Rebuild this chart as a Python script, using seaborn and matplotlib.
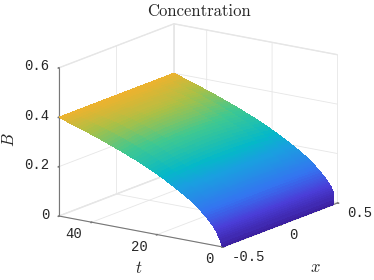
import numpy as np
import matplotlib
matplotlib.use('Agg')
import matplotlib.pyplot as plt
from matplotlib.colors import LinearSegmentedColormap
from mpl_toolkits.mplot3d import proj3d
import seaborn as sns

# values
t_values = [0, 0.25, 0.5, 0.75, 1, 1.25, 1.5, 1.75, 2, 2.25, 2.5, 2.75, 3, 3.25, 3.5, 3.75, 4,
            4.5, 5, 5.5, 6, 6.5, 7, 7.5, 8, 8.5, 9, 9.5, 10, 10.5, 11, 11.5, 12, 12.5, 13, 13.5,
            14, 14.5, 15, 15.5, 16, 17, 18, 19,
            20, 21, 22, 23, 24, 25, 26, 27, 28, 29, 30, 31, 32, 33, 34, 35, 36, 37, 38, 39,
            40, 41, 42, 43, 44, 45, 46, 47, 48, 49, 50]
b_edge = [0, 0.009, 0.018, 0.026, 0.033, 0.040, 0.047, 0.054, 0.060, 0.065, 0.070, 0.075, 0.079,
          0.083, 0.087, 0.091, 0.095, 0.102, 0.109, 0.116, 0.122, 0.128, 0.134, 0.140, 0.145,
          0.151, 0.156, 0.161, 0.166, 0.171, 0.175, 0.180, 0.184, 0.188, 0.192, 0.196,
          0.200, 0.204, 0.208, 0.212, 0.216, 0.223, 0.231, 0.238, 0.245, 0.252,
          0.258, 0.265, 0.271, 0.277, 0.283, 0.289, 0.294, 0.300, 0.305, 0.311, 0.316, 0.321,
          0.326, 0.331, 0.336, 0.341, 0.346, 0.351, 0.355, 0.360, 0.364, 0.369, 0.373, 0.378,
          0.382, 0.386, 0.391, 0.395, 0.400]
# extra height along the middle of the surface (x = 0), at each t
b_bump = [0, 0, 0, 0, 0, 0, 0, 0, 0, 0.001, 0.001, 0.001, 0.001, 0.001, 0.001, 0.002, 0.002,
          0.002, 0.003, 0.003, 0.004, 0.004, 0.005, 0.005, 0.006, 0.007, 0.008, 0.008,
          0.009, 0.009, 0.010, 0.010, 0.011, 0.011, 0.012, 0.012, 0.013, 0.013, 0.014, 0.014,
          0.015, 0.016, 0.017, 0.018, 0.019, 0.020,
          0.021, 0.022, 0.023, 0.023, 0.024, 0.024, 0.025, 0.025, 0.025, 0.025, 0.025, 0.025,
          0.025, 0.025, 0.024, 0.024, 0.023, 0.022, 0.021, 0.019, 0.017, 0.015, 0.013, 0.011,
          0.009, 0.007, 0.005, 0.002, 0.000]
x_values = [-0.5, -0.4, -0.3, -0.2, -0.1, 0, 0.1, 0.2, 0.3, 0.4, 0.5]
x_shape = [0, 0.36, 0.64, 0.84, 0.96, 1, 0.96, 0.84, 0.64, 0.36, 0]
x_ticks = [-0.5, 0, 0.5]
x_labels = ['-0.5', '0', '0.5']
t_ticks = [0, 20, 40]
t_labels = ['0', '20', '40']
b_ticks = [0, 0.2, 0.4, 0.6]
b_labels = ['0', '0.2', '0.4', '0.6']
surface_colors = [(0, '#3b1f9e'), (0.16, '#4a3ed8'), (0.31, '#3474f0'), (0.5, '#1a9fe0'), (0.6, '#05b8c8'),
                  (0.775, '#40c890'), (0.91, '#aac046'), (1, '#eeb22e')]

sns.set_theme(style='white')
plt.rcParams['font.family'] = ['Liberation Mono', 'DejaVu Sans Mono']
plt.rcParams['mathtext.fontset'] = 'cm'
cmap = LinearSegmentedColormap.from_list('surface', surface_colors)

B = np.outer(x_shape, b_bump) + np.array([b_edge] * len(x_values))
X, T = np.meshgrid(x_values, t_values, indexing='ij')

fig = plt.figure(figsize=(3.74, 2.8), dpi=100)
ax = fig.add_axes([0.02, 0.003, 1, 1], projection='3d', proj_type='ortho')
ax.view_init(elev=15.6, azim=-144.9)
ax.set_box_aspect((200, 200, 154), zoom=1.116)

ax.plot_surface(X, T, B, cmap=cmap, vmin=0, vmax=0.4, rstride=1, cstride=1,
                linewidth=0, antialiased=False, shade=False)

ax.set_xlim(-0.5, 0.5)
ax.set_ylim(0, 50)
ax.set_zlim(0, 0.6)
ax.set_xticks(x_ticks)
ax.set_yticks(t_ticks)
ax.set_zticks(b_ticks)
ax.set_xticklabels([''] * len(x_ticks))
ax.set_yticklabels([''] * len(t_ticks))
ax.set_zticklabels([''] * len(b_ticks))
ax.tick_params(color='#777777', pad=0)

for axis in (ax.xaxis, ax.yaxis, ax.zaxis):
    axis.set_pane_color((1, 1, 1, 1))
    axis.pane.set_edgecolor('#e6e6e6')
    axis.line.set_color('#777777')
    axis.line.set_linewidth(0.8)
    axis._axinfo['grid']['color'] = '#e6e6e6'
    axis._axinfo['grid']['linewidth'] = 0.6
    axis._axinfo['tick']['inward_factor'] = 0.08
    axis._axinfo['tick']['outward_factor'] = 0
ax.zaxis.set_ticks_position('upper')

fig.canvas.draw()


# mplot3d resets its own tick label positions when drawing, so label from projected ticks
def tick_label(x, t, b, text, dx, dy, ha):
    px, py, _ = proj3d.proj_transform(x, t, b, ax.get_proj())
    ax.annotate(text, xy=(px, py), xycoords='data', xytext=(dx, dy), textcoords='offset pixels',
                ha=ha, va='center', fontsize=10, color='#262626', annotation_clip=False)


for value, text in zip(x_ticks, x_labels):
    tick_label(value, 0, 0, text, 9.5, -10, 'left')
for value, text in zip(t_ticks, t_labels):
    tick_label(-0.5, value, 0, text, -9.5, -12, 'right')
for value, text in zip(b_ticks, b_labels):
    tick_label(-0.5, 50, value, text, -10, 1.5, 'right')

fig.text(315 / 374, 1 - 267 / 280, '$x$', fontsize=12, ha='center', va='center')
fig.text(139 / 374, 1 - 268 / 280, '$t$', fontsize=12, ha='center', va='center')
fig.text(9 / 374, 1 - 140 / 280, '$B$', fontsize=12, ha='center', va='center', rotation=90)
fig.text(199 / 374, 1 - 11 / 280, 'Concentration', family='cmr10', fontsize=12, ha='center', va='center')

fig.savefig('out.png', dpi=100)
